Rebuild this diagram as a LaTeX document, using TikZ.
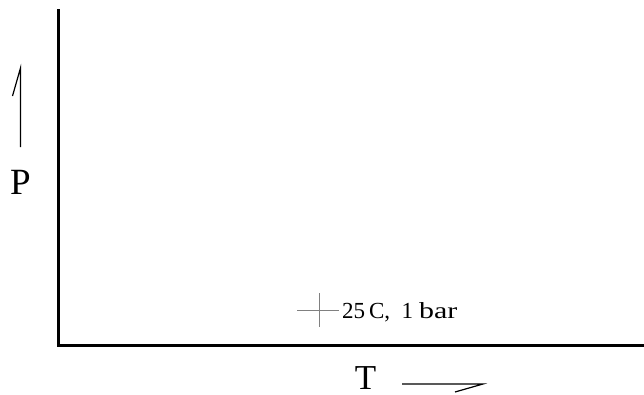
\documentclass[tikz,border=0pt]{standalone}
\usepackage{fontspec}
\usepackage{graphicx}
\setmainfont{Liberation Serif}
\begin{document}
\begin{tikzpicture}[x=1pt,y=-1pt,
  axis/.style={line width=3.4pt,line cap=rect},
  arr/.style={line width=1.2pt},
  mark cross/.style={draw=gray,line width=0.9pt},
  lbl/.style={inner sep=0pt,anchor=base}]
\useasboundingbox (0,0) rectangle (644,394);
% axes
\coordinate (top) at (58.5,11);
\coordinate (orig) at (58.5,345.5);
\coordinate (right) at (646,345.5);
\draw[axis] (top) -- (orig) -- (right);
% P arrow
\coordinate (pa) at (20.5,147);
\coordinate (pb) at (20.5,68);
\coordinate (pc) at (12.5,96);
\draw[arr] (pa) -- (pb) -- (pc);
\node[lbl,font=\fontsize{37}{40}\selectfont] (P) at (20.5,194) {P};
% T arrow
\coordinate (ta) at (402,384);
\coordinate (tb) at (483,384);
\coordinate (tc) at (455,392);
\draw[arr] (ta) -- (tb) -- (tc);
\node[lbl,font=\fontsize{35}{40}\selectfont] (T) at (365.5,389.5) {T};
% reference point
\coordinate (ch1) at (297,310);
\coordinate (ch2) at (339,310);
\coordinate (cv1) at (319,293);
\coordinate (cv2) at (319,327);
\draw[mark cross] (ch1) -- (ch2) (cv1) -- (cv2);
\node[inner sep=0pt,anchor=base west,font=\fontsize{23}{26}\selectfont] (lab) at (342,318) {25\,C,\ \ 1\hspace{6pt}\scalebox{1.3}[1]{bar}};
\end{tikzpicture}
\end{document}
